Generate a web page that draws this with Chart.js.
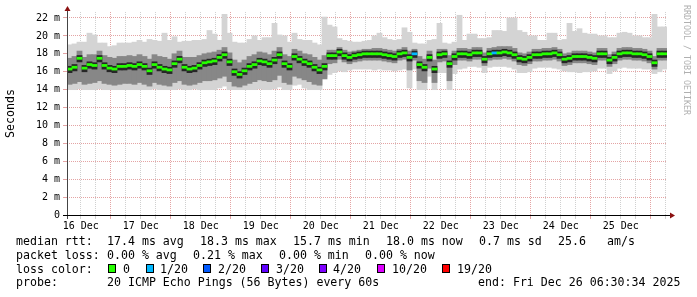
<!DOCTYPE html>
<html>
<head>
<meta charset="utf-8">
<script src="https://cdn.jsdelivr.net/npm/chart.js@4.4.1/dist/chart.umd.min.js"></script>
<style>
  body { margin: 0; background: #fff; }
  #wrap { position: relative; width: 697px; height: 297px; overflow: hidden; background: #fff; }
  canvas { position: absolute; left: 0; top: 0; }
  .t { position: absolute; font-family: 'DejaVu Sans Mono', monospace; font-size: 11.6px; line-height: 14px; color: #000; white-space: pre; }
  .sw { position: absolute; top: 264px; width: 6px; height: 7px; border: 1px solid #000; }
  #credit { position: absolute; left: 682px; top: 5px; writing-mode: vertical-rl; font-family: 'DejaVu Sans Mono', monospace; font-size: 8.3px; color: #b0b0b0; white-space: pre; }
</style>
</head>
<body>
<div id="wrap">
  <canvas id="smoke" width="697" height="297"></canvas>
  <div id="credit">RRDTOOL / TOBI OETIKER</div>

  <div class="t" style="left:16px;top:234px">median rtt:</div>
  <div class="t" style="left:107px;top:234px">17.4 ms avg</div>
  <div class="t" style="left:200px;top:234px">18.3 ms max</div>
  <div class="t" style="left:293px;top:234px">15.7 ms min</div>
  <div class="t" style="left:386px;top:234px">18.0 ms now</div>
  <div class="t" style="left:479px;top:234px">0.7 ms sd</div>
  <div class="t" style="left:558px;top:234px">25.6</div>
  <div class="t" style="left:607px;top:234px">am/s</div>

  <div class="t" style="left:16px;top:248px">packet loss:</div>
  <div class="t" style="left:107px;top:248px">0.00 % avg</div>
  <div class="t" style="left:193px;top:248px">0.21 % max</div>
  <div class="t" style="left:279px;top:248px">0.00 % min</div>
  <div class="t" style="left:365px;top:248px">0.00 % now</div>

  <div class="t" style="left:16px;top:261.5px">loss color:</div>
  <div class="sw" style="left:108px;background:#26ff00"></div>
  <div class="t" style="left:123px;top:261.5px">0</div>
  <div class="sw" style="left:146px;background:#00b8ff"></div>
  <div class="t" style="left:160px;top:261.5px">1/20</div>
  <div class="sw" style="left:203px;background:#0059ff"></div>
  <div class="t" style="left:218px;top:261.5px">2/20</div>
  <div class="sw" style="left:261px;background:#5e00ff"></div>
  <div class="t" style="left:276px;top:261.5px">3/20</div>
  <div class="sw" style="left:319px;background:#7e00ff"></div>
  <div class="t" style="left:333px;top:261.5px">4/20</div>
  <div class="sw" style="left:377px;background:#dd00ff"></div>
  <div class="t" style="left:392px;top:261.5px">10/20</div>
  <div class="sw" style="left:442px;background:#ff0000"></div>
  <div class="t" style="left:457px;top:261.5px">19/20</div>

  <div class="t" style="left:16px;top:275px">probe:</div>
  <div class="t" style="left:107px;top:275px">20 ICMP Echo Pings (56 Bytes) every 60s</div>
  <div class="t" style="left:478px;top:275px">end: Fri Dec 26 06:30:34 2025</div>
</div>

<script>
// 2-hour bins over the last 10 days, values in ms
const medianRtt = [
  16.3,16.5,17.5,16.4,16.8,16.7,17.5,16.7,16.4,16.3,16.6,16.6,
  16.7,16.6,16.8,16.6,16.1,16.8,16.5,16.3,16.2,16.9,17.4,16.5,
  16.3,16.4,16.7,17.0,17.1,17.2,17.6,17.9,17.1,16.0,15.7,16.1,
  16.6,16.8,17.2,17.1,16.9,17.3,17.9,16.9,16.6,17.7,17.4,17.1,
  16.9,16.5,16.2,16.6,17.8,17.8,18.2,17.8,17.6,17.8,17.9,18.0,
  18.0,18.0,18.0,17.9,17.8,17.7,18.0,18.1,17.6,18.0,16.8,16.5,
  17.6,16.3,17.9,18.0,16.9,17.7,18.0,18.0,17.9,18.1,18.1,17.4,
  18.0,18.1,18.1,18.2,18.1,17.9,17.5,17.4,17.6,17.9,17.9,18.0,
  18.0,18.1,17.9,17.4,17.5,17.7,17.7,17.7,17.6,17.5,18.0,18.0,
  17.3,17.6,18.0,18.1,18.1,18.0,18.0,17.9,17.7,17.0,18.0,18.0
];
const rttMax = [
  19.0,19.1,19.3,19.3,20.3,20.1,19.2,19.2,18.8,18.9,19.2,19.2,
  19.2,19.3,19.5,19.3,19.6,19.5,19.4,20.3,19.5,19.9,19.3,19.4,
  19.4,19.5,19.5,19.6,20.6,20.2,19.5,22.4,20.3,19.3,19.2,19.2,
  19.6,20.0,19.5,19.8,19.8,21.4,20.1,20.0,19.3,20.3,19.6,19.5,
  19.5,19.2,19.0,22.1,21.2,21.0,19.7,19.5,19.4,19.3,19.3,19.4,
  19.5,20.0,20.3,19.8,19.6,19.5,19.6,20.9,20.4,19.2,19.1,19.1,
  19.5,19.6,21.4,19.2,19.1,19.3,22.3,19.5,20.2,20.2,19.7,19.7,
  19.8,20.6,20.6,20.5,22.0,22.0,20.6,20.4,20.0,20.0,19.5,19.5,
  20.3,20.3,19.5,19.6,21.4,20.5,20.8,20.3,20.2,20.2,20.0,20.0,
  19.8,19.8,20.3,20.4,20.3,20.0,20.0,19.8,19.8,22.4,21.0,21.0
];
const rttMin = [
  14.0,14.0,14.1,14.0,14.0,14.0,14.1,14.0,14.0,14.0,14.0,14.0,
  14.0,14.0,14.0,14.0,14.0,14.1,14.0,14.0,14.0,14.0,14.1,14.0,
  14.0,14.1,14.0,14.0,14.0,14.0,14.2,14.4,14.0,14.0,14.0,14.0,
  14.0,14.0,14.1,14.0,14.0,14.1,14.3,14.0,14.0,14.5,14.6,14.2,
  14.0,14.0,14.0,15.4,15.7,15.9,16.1,16.0,16.2,16.3,16.3,16.3,
  16.3,16.2,16.3,16.2,16.2,16.1,16.2,16.3,14.2,16.3,14.0,14.0,
  15.5,14.0,15.9,15.9,14.0,15.8,16.3,16.4,16.6,16.6,16.5,15.9,
  16.5,16.6,16.6,16.6,16.5,16.3,15.9,15.9,16.0,16.4,16.5,16.5,
  16.5,16.4,16.3,16.1,16.0,16.0,15.9,16.0,16.0,16.1,16.4,16.4,
  15.8,16.1,16.4,16.5,16.4,16.4,16.4,16.3,16.3,15.8,16.0,16.3
];
const coreLow = [
  14.6,14.7,14.9,14.6,14.7,14.8,15.0,14.7,14.6,14.5,14.6,14.7,
  14.7,14.6,14.8,14.6,14.4,14.8,14.6,14.5,14.4,14.8,15.0,14.6,
  14.5,14.6,14.8,15.0,15.0,15.1,15.3,15.5,14.9,14.4,14.3,14.5,
  14.7,14.9,15.1,15.0,14.9,15.1,15.6,14.8,14.6,15.5,15.3,15.1,
  14.9,14.6,14.5,15.2,16.9,17.0,17.4,17.1,16.9,17.1,17.2,17.3,
  17.3,17.3,17.3,17.2,17.1,17.0,17.3,17.4,16.2,17.3,15.0,14.8,
  16.4,14.8,17.1,17.2,15.0,16.8,17.3,17.3,17.2,17.4,17.4,16.7,
  17.3,17.4,17.4,17.5,17.4,17.2,16.8,16.7,16.9,17.2,17.2,17.3,
  17.3,17.4,17.2,16.7,16.8,17.0,17.0,17.0,16.9,16.8,17.3,17.3,
  16.6,16.9,17.3,17.4,17.4,17.3,17.3,17.2,17.0,16.3,17.3,17.3
];
const coreHigh = [
  17.5,17.7,18.3,17.6,17.9,17.9,18.3,17.8,17.6,17.5,17.7,17.7,
  17.8,17.7,17.9,17.7,17.4,17.9,17.7,17.6,17.4,18.0,18.3,17.6,
  17.6,17.6,17.8,18.0,18.1,18.2,18.4,18.7,18.1,17.3,17.0,17.3,
  17.7,17.9,18.2,18.1,17.9,18.3,18.7,17.9,17.7,18.5,18.3,18.0,
  17.9,17.6,17.3,17.8,18.4,18.4,18.7,18.4,18.2,18.3,18.4,18.5,
  18.5,18.6,18.6,18.5,18.4,18.3,18.5,18.7,18.3,18.5,17.7,17.4,
  18.3,17.3,18.5,18.5,17.8,18.3,18.6,18.6,18.5,18.7,18.7,18.1,
  18.6,18.7,18.8,18.8,18.8,18.6,18.1,18.0,18.2,18.5,18.5,18.6,
  18.6,18.7,18.5,18.0,18.1,18.3,18.3,18.3,18.2,18.1,18.6,18.6,
  17.9,18.2,18.6,18.7,18.7,18.6,18.6,18.5,18.3,17.7,18.6,18.6
];
// bins where 1 of 20 pings was lost
const lossBins = [69, 85];

const dayLabels = ['16 Dec','17 Dec','18 Dec','19 Dec','20 Dec','21 Dec','22 Dec','23 Dec','24 Dec','25 Dec'];
const yLabels = ['0','','2 m','','4 m','','6 m','','8 m','','10 m','','12 m','','14 m','','16 m','','18 m','','20 m','','22 m'];

const spanHours = 240;
const firstMidnight = 17.49; // 17 Dec 00:00, hours after graph start
const binHours = 2;

const hours = medianRtt.map((_, i) => binHours * i + binHours / 2);
const MAJOR = 'rgba(205,90,90,0.55)';
const MINOR = 'rgba(150,150,150,0.45)';

const mod24 = v => ((v % 24) + 24) % 24;
const isMidnight = v => Math.min(mod24(v - firstMidnight), 24 - mod24(v - firstMidnight)) < 0.01;
const isNoon = v => Math.min(mod24(v - firstMidnight + 12), 24 - mod24(v - firstMidnight + 12)) < 0.01;
const xGridColor = c => (c.tick && isMidnight(c.tick.value)) ? MAJOR : MINOR;
const yGridColor = c => (c.tick && c.tick.value % 2 === 0) ? MAJOR : MINOR;

Chart.defaults.font.family = "'DejaVu Sans Mono', monospace";

const axisArrows = {
    id: 'axisArrows',
    afterDraw(chart) {
        const { ctx, chartArea: a } = chart;
        ctx.save();
        ctx.lineWidth = 1;
        ctx.strokeStyle = '#444';
        ctx.beginPath();
        ctx.moveTo(a.left + 0.5, a.bottom + 4);
        ctx.lineTo(a.left + 0.5, a.top - 1);
        ctx.stroke();
        ctx.strokeStyle = '#000';
        ctx.beginPath();
        ctx.moveTo(a.left - 4, a.bottom + 0.5);
        ctx.lineTo(a.right + 3, a.bottom + 0.5);
        ctx.stroke();
        ctx.fillStyle = '#8b1010';
        ctx.beginPath();
        ctx.moveTo(a.left + 0.5, a.top - 6);
        ctx.lineTo(a.left - 2.5, a.top - 1);
        ctx.lineTo(a.left + 3.5, a.top - 1);
        ctx.fill();
        ctx.beginPath();
        ctx.moveTo(a.right + 8, a.bottom + 0.5);
        ctx.lineTo(a.right + 3, a.bottom - 2.5);
        ctx.lineTo(a.right + 3, a.bottom + 3.5);
        ctx.fill();
        ctx.restore();
    }
};

const band = (lo, hi) => hours.map((h, i) => ({ x: h, y: [lo[i], hi[i]] }));
const bar = (data, color, order) => ({
    data,
    backgroundColor: color,
    grouped: false,
    barPercentage: 1,
    categoryPercentage: 1,
    inflateAmount: 0.4,
    order
});

// the median is drawn as short dashes, one per bin, with a dark halo round it
const medianDash = hours.map((h, i) => ({ x: h, y: [medianRtt[i] - 0.11, medianRtt[i] + 0.11] }));
const medianHalo = hours.map((h, i) => ({ x: h, y: [medianRtt[i] - 0.4, medianRtt[i] + 0.3] }));

new Chart(document.getElementById('smoke'), {
    type: 'bar',
    data: {
        datasets: [
            bar(medianDash, medianRtt.map((_, i) => lossBins.includes(i) ? '#00b8ff' : '#26ff00'), 0),
            bar(medianHalo, '#262626', 1),
            bar(band(coreLow, coreHigh), '#878787', 2),
            bar(band(rttMin, rttMax), '#d4d4d4', 3)
        ]
    },
    options: {
        responsive: false,
        animation: false,
        devicePixelRatio: 1,
        layout: { padding: { top: 12, right: 30, bottom: 62, left: 0 } },
        plugins: {
            legend: { display: false },
            tooltip: { enabled: false }
        },
        scales: {
            x: {
                type: 'linear',
                min: 0,
                max: spanHours,
                offset: false,
                afterBuildTicks: s => {
                    const ticks = [];
                    for (let v = firstMidnight - 12; v <= spanHours; v += 6) ticks.push({ value: v });
                    s.ticks = ticks;
                },
                afterFit: s => { s.height = 20; },
                grid: { offset: false, color: xGridColor, tickColor: xGridColor, tickLength: 4 },
                border: { display: false, dash: [1, 1] },
                ticks: {
                    autoSkip: false,
                    maxRotation: 0,
                    padding: 1,
                    color: '#000',
                    font: { size: 10 },
                    callback: v => isNoon(v) ? dayLabels[Math.round((v - firstMidnight + 12) / 24)] : ''
                }
            },
            y: {
                min: 0,
                max: 22.67,
                afterBuildTicks: s => {
                    s.ticks = yLabels.map((_, i) => ({ value: i }));
                },
                afterFit: s => { s.width = 67; },
                grid: { color: yGridColor, tickColor: yGridColor, tickLength: 4 },
                border: { display: false, dash: [1, 1] },
                ticks: {
                    padding: 3,
                    color: '#000',
                    font: { size: 10 },
                    callback: (v, i) => yLabels[i]
                },
                title: {
                    display: true,
                    text: 'Seconds',
                    color: '#000',
                    font: { size: 11.6 },
                    padding: { top: 4, bottom: 0 }
                }
            }
        }
    },
    plugins: [axisArrows]
});
</script>
</body>
</html>
